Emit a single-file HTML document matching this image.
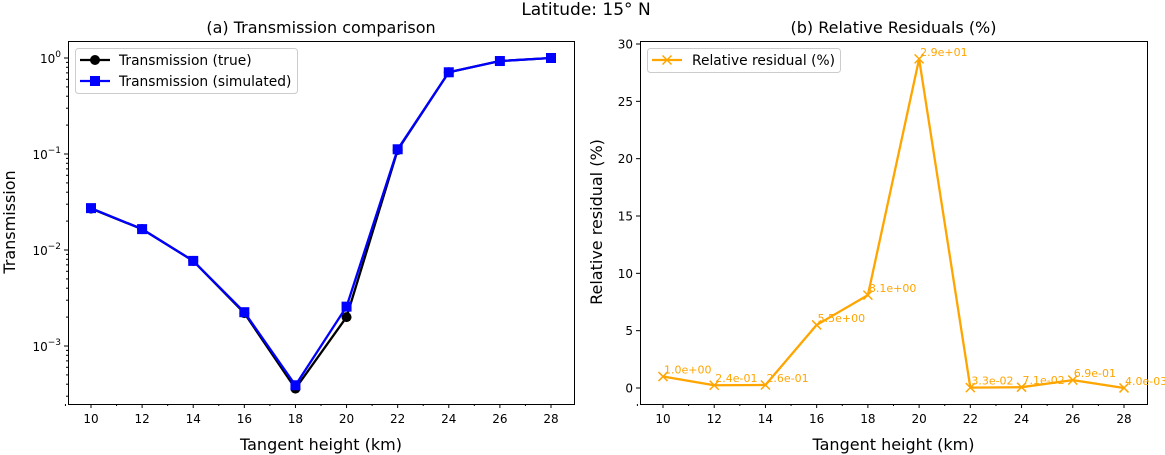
<!DOCTYPE html>
<html><head><meta charset="utf-8">
<style>
html,body{margin:0;padding:0;background:#fff;}
svg{display:block;font-family:"DejaVu Sans","Liberation Sans",sans-serif;}
</style></head>
<body>
<svg id="fig" width="1165" height="455" viewBox="0 0 1165 455">
<text x="586" y="15" font-size="17" text-anchor="middle">Latitude: 15° N</text>
</svg>
<script>
const heights = [10,12,14,16,18,20,22,24,26,28];
const transTrue = [0.027,0.0165,0.0077,0.0022,0.00036,0.002,0.11,0.71,0.93,1.0];
const transSim = [0.0273,0.0165,0.0077,0.00225,0.00039,0.00257,0.112,0.71,0.93,1.0];
const residuals = [1.0,0.24,0.26,5.5,8.1,28.7,0.033,0.071,0.69,0.004];
const xTicks = [10,12,14,16,18,20,22,24,26,28];
const logTicks = [0,-1,-2,-3];
const resTicks = [0,5,10,15,20,25,30];

const NS="http://www.w3.org/2000/svg";
const svg=document.getElementById('fig');
function mk(tag,attrs,parent){const e=document.createElementNS(NS,tag);for(const k in attrs)e.setAttribute(k,attrs[k]);(parent||svg).appendChild(e);return e;}

const L={x0:68,x1:574,y0:41,y1:404};
const lx=v=>91+(v-10)*(551-91)/18;
const ly=v=>58-Math.log10(v)*96;
const R={x0:640,x1:1147,y0:41,y1:404};
const rx=v=>663+(v-10)*(1124-663)/18;
const ry=v=>388-v*(388-44)/30;

function frame(A,name){
  const r=mk('rect',{x:A.x0+0.5,y:A.y0+0.5,width:A.x1-A.x0,height:A.y1-A.y0,fill:'none',stroke:'#000','stroke-width':1});
  
  
}
function xaxis(A,fx,name){
  const g=mk('g',{});
  
  
  for(let v=9;v<=28.9;v++){
    const major=xTicks.includes(v);
    mk('line',{x1:fx(v),x2:fx(v),y1:A.y1,y2:A.y1+(major?4:2),stroke:'#000','stroke-width':1},g);
  }
  xTicks.forEach(v=>{
    const t=mk('text',{x:fx(v),y:A.y1+19,'font-size':12,'text-anchor':'middle'},g);
    t.textContent=v;
    
    
  });
  const tt=mk('text',{x:(A.x0+A.x1)/2,y:A.y1+46,'font-size':16,'text-anchor':'middle'});
  tt.textContent='Tangent height (km)';
  
  
}
function title(A,s){
  const t=mk('text',{x:(A.x0+A.x1)/2,y:A.y0-8,'font-size':16,'text-anchor':'middle'});
  t.textContent=s;
  
  
}

frame(L,'left-axes-frame');
title(L,'(a) Transmission comparison');
xaxis(L,lx,'left-x-axis');
const lyg=mk('g',{});


for(let d=-4;d<=0;d++){
  for(let m=1;m<10;m++){
    const v=m*Math.pow(10,d);const y=ly(v);
    if(y<L.y0||y>L.y1)continue;
    mk('line',{x1:L.x0,x2:L.x0-(m===1?4:2),y1:y,y2:y,stroke:'#000','stroke-width':1},lyg);
  }
}
logTicks.forEach(e=>{
  const t=mk('text',{x:L.x0-7,y:ly(Math.pow(10,e))+5,'font-size':12,'text-anchor':'end'},lyg);
  t.innerHTML='10<tspan dy="-6" font-size="9">'+(e<0?'\u2212'+(-e):e)+'</tspan>';
  
  
});
const lyt=mk('text',{x:15,y:222,'font-size':16,'text-anchor':'middle',transform:'rotate(-90 15 222)'});
lyt.textContent='Transmission';



function series(vals,fx,fy,color,marker,name){
  const g=mk('g',{});
  
  
  const pts=heights.map((h,i)=>fx(h)+','+fy(vals[i])).join(' ');
  mk('polyline',{points:pts,fill:'none',stroke:color,'stroke-width':2.3,'stroke-linejoin':'round'},g);
  heights.forEach((h,i)=>{
    const x=fx(h),y=fy(vals[i]);let m;
    if(marker==='o')m=mk('circle',{cx:x,cy:y,r:5,fill:color},g);
    else if(marker==='s')m=mk('rect',{x:x-5,y:y-5,width:10,height:10,fill:color},g);
    else m=mk('path',{d:`M${x-4.5},${y-4.5}L${x+4.5},${y+4.5}M${x-4.5},${y+4.5}L${x+4.5},${y-4.5}`,stroke:color,'stroke-width':1.5},g);
    
    
  });
}
series(transTrue,lx,ly,'#000','o','series-true');
series(transSim,lx,ly,'#0000ff','s','series-simulated');

const lg=mk('g',{});


mk('rect',{x:75.5,y:48.5,width:222,height:45,rx:3,fill:'#fff',stroke:'#ccc'},lg);
mk('line',{x1:80,x2:110,y1:60,y2:60,stroke:'#000','stroke-width':2.3},lg);
mk('circle',{cx:95,cy:60,r:5,fill:'#000'},lg);
const le1=mk('text',{x:119,y:65,'font-size':13.8},lg);le1.textContent='Transmission (true)';


mk('line',{x1:80,x2:110,y1:81,y2:81,stroke:'#0000ff','stroke-width':2.3},lg);
mk('rect',{x:90,y:76,width:10,height:10,fill:'#0000ff'},lg);
const le2=mk('text',{x:119,y:86,'font-size':13.8},lg);le2.textContent='Transmission (simulated)';



frame(R,'right-axes-frame');
title(R,'(b) Relative Residuals (%)');
xaxis(R,rx,'right-x-axis');
const ryg=mk('g',{});


resTicks.forEach(v=>{
  mk('line',{x1:R.x0,x2:R.x0-4,y1:ry(v),y2:ry(v),stroke:'#000','stroke-width':1},ryg);
  const t=mk('text',{x:R.x0-7,y:ry(v)+4.5,'font-size':12,'text-anchor':'end'},ryg);
  t.textContent=v;
  
  
});
const ryt=mk('text',{x:602,y:222,'font-size':16,'text-anchor':'middle',transform:'rotate(-90 602 222)'});
ryt.textContent='Relative residual (%)';


series(residuals,rx,ry,'#ffa500','x','series-residual');
heights.forEach((h,i)=>{
  const t=mk('text',{x:rx(h)+1,y:ry(residuals[i])-3,'font-size':11,fill:'#ffa500'});
  t.textContent=residuals[i].toExponential(1).replace(/e([+-])(\d)$/,'e$10$2');
  
  
});
const rg=mk('g',{});


mk('rect',{x:647.5,y:48.5,width:193,height:24,rx:3,fill:'#fff',stroke:'#ccc'},rg);
mk('line',{x1:652,x2:682,y1:60,y2:60,stroke:'#ffa500','stroke-width':2.3},rg);
mk('path',{d:'M662.5,55.5L671.5,64.5M662.5,64.5L671.5,55.5',stroke:'#ffa500','stroke-width':1.5},rg);
const re=mk('text',{x:692,y:65,'font-size':13.8},rg);re.textContent='Relative residual (%)';


</script>
</body></html>
